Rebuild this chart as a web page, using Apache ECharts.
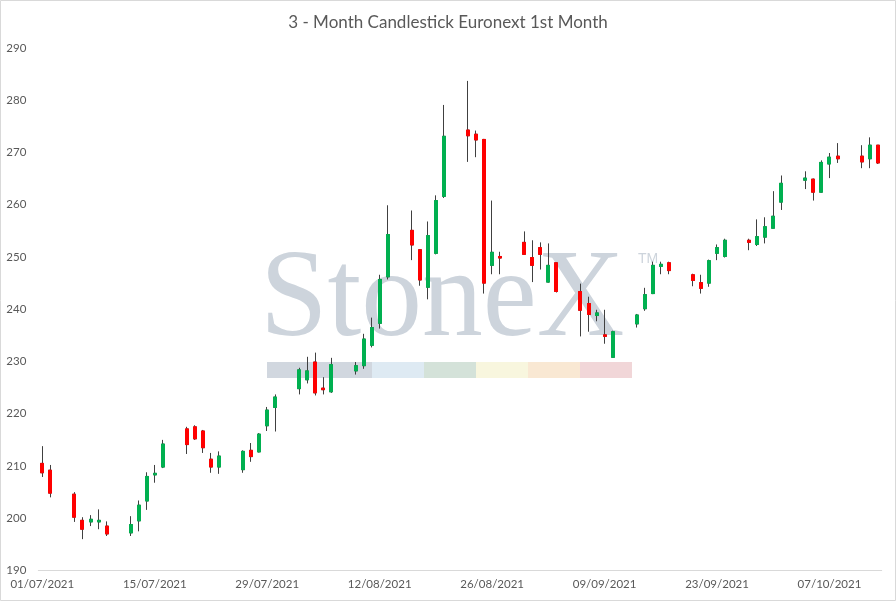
<!DOCTYPE html>
<html>
<head>
<meta charset="utf-8">
<script src="https://cdn.jsdelivr.net/npm/echarts@6/dist/echarts.min.js"></script>
<style>
html,body{margin:0;padding:0;background:#fff;}
#chart{width:896px;height:601px;}
</style>
</head>
<body>
<div id="chart"></div>
<script>
const chartTitle = '3 - Month Candlestick Euronext 1st Month';
const tradingDates = [
 '01/07/2021','02/07/2021',
 '05/07/2021','06/07/2021','07/07/2021','08/07/2021','09/07/2021',
 '12/07/2021','13/07/2021','14/07/2021','15/07/2021','16/07/2021',
 '19/07/2021','20/07/2021','21/07/2021','22/07/2021','23/07/2021',
 '26/07/2021','27/07/2021','28/07/2021','29/07/2021','30/07/2021',
 '02/08/2021','03/08/2021','04/08/2021','05/08/2021','06/08/2021',
 '09/08/2021','10/08/2021','11/08/2021','12/08/2021','13/08/2021',
 '16/08/2021','17/08/2021','18/08/2021','19/08/2021','20/08/2021',
 '23/08/2021','24/08/2021','25/08/2021','26/08/2021','27/08/2021',
 '30/08/2021','31/08/2021','01/09/2021','02/09/2021','03/09/2021',
 '06/09/2021','07/09/2021','08/09/2021','09/09/2021','10/09/2021',
 '13/09/2021','14/09/2021','15/09/2021','16/09/2021','17/09/2021',
 '20/09/2021','21/09/2021','22/09/2021','23/09/2021','24/09/2021',
 '27/09/2021','28/09/2021','29/09/2021','30/09/2021','01/10/2021',
 '04/10/2021','05/10/2021','06/10/2021','07/10/2021','08/10/2021',
 '11/10/2021','12/10/2021','13/10/2021'
];
const openVals = [
 210.5,209.2,
 204.6,199.6,199.3,199.3,198.5,
 197.2,199.5,203.3,208.3,209.8,
 217.1,217.5,216.7,211.3,209.8,
 209.3,213.0,212.7,217.7,221.2,
 224.8,226.5,229.9,224.9,224.2,
 228.2,229.2,233.1,237.3,246.2,
 255.1,251.4,244.2,250.7,261.6,
 274.3,273.5,272.5,248.4,250.1,
 252.8,249.9,251.8,245.2,248.9,
 243.4,241.1,238.8,235.1,230.8,
 237.2,240.1,243.0,248.2,248.9,
 246.6,245.1,245.0,250.7,250.1,
 253.2,252.4,253.8,255.5,260.5,
 264.7,264.9,262.4,267.8,269.3,
 269.3,268.8,271.4
];
const closeVals = [
 208.7,204.8,
 200.2,197.9,199.8,199.6,197.0,
 198.8,202.5,208.0,208.6,214.2,
 214.1,215.2,213.5,209.8,211.9,
 212.8,211.8,216.1,220.7,223.2,
 228.4,228.2,224.0,224.6,229.4,
 229.2,234.3,236.5,245.7,254.3,
 252.3,245.6,254.1,260.8,273.1,
 273.2,272.4,245.0,250.9,249.8,
 250.5,248.4,250.5,248.4,243.4,
 239.8,239.0,239.3,234.8,235.7,
 238.9,242.8,248.4,248.6,247.4,
 245.5,244.0,249.3,251.8,253.2,
 252.8,253.9,255.8,257.8,264.1,
 265.1,262.4,268.1,269.1,268.8,
 268.2,271.4,268.0
];
const lowVals = [
 207.9,204.0,
 199.3,196.0,198.5,197.9,196.6,
 196.6,197.5,201.6,206.8,209.6,
 212.3,215.0,212.5,208.7,208.5,
 208.7,210.8,212.6,216.7,216.6,
 223.7,225.8,223.5,223.7,224.0,
 227.5,228.6,232.7,236.3,245.7,
 249.4,244.5,241.9,250.5,261.3,
 268.2,269.1,243.0,246.7,246.7,
 250.4,245.2,247.6,245.1,243.2,
 234.8,235.7,237.7,233.4,230.7,
 236.5,239.7,242.9,246.7,246.7,
 244.4,243.0,244.3,249.4,249.9,
 251.3,252.1,252.6,255.5,259.0,
 263.0,260.8,262.3,265.1,268.0,
 267.0,267.0,267.8
];
const highVals = [
 213.8,210.2,
 205.0,200.2,200.6,201.7,199.4,
 200.4,203.4,208.8,210.2,215.0,
 217.5,217.8,216.9,212.5,212.8,
 213.0,214.4,216.3,221.3,223.7,
 228.8,230.9,231.7,227.0,230.7,
 229.9,235.3,238.4,246.6,259.9,
 258.9,251.5,256.8,261.8,279.1,
 283.7,274.2,272.6,260.8,251.0,
 254.9,253.2,252.8,252.6,249.0,
 244.9,242.4,239.9,239.9,235.9,
 239.1,244.1,249.1,249.1,249.1,
 246.8,246.6,249.5,252.4,253.5,
 253.5,257.2,257.6,262.6,265.6,
 266.4,265.0,268.5,269.9,271.8,
 271.4,272.9,271.4
];
const xTickLabels = ['01/07/2021','15/07/2021','29/07/2021','12/08/2021','26/08/2021','09/09/2021','23/09/2021','07/10/2021'];
const yMin = 190, yMax = 290, yStep = 10;

// calendar-day categories (Excel date axis keeps weekend gaps)
function parseD(s){const p=s.split('/');return Date.UTC(+p[2],+p[1]-1,+p[0]);}
function fmtD(t){const d=new Date(t);const z=n=>(n<10?'0':'')+n;return z(d.getUTCDate())+'/'+z(d.getUTCMonth()+1)+'/'+d.getUTCFullYear();}
const calendarDays = [];
for(let t=parseD(tradingDates[0]); t<=parseD(tradingDates[tradingDates.length-1]); t+=86400000){calendarDays.push(fmtD(t));}

const wickData = tradingDates.map((d,i)=>[d, openVals[i], closeVals[i], lowVals[i], highVals[i]]);
const bodyData = tradingDates.map((d,i)=>[d, openVals[i], closeVals[i], Math.min(openVals[i],closeVals[i]), Math.max(openVals[i],closeVals[i])]);

const FONT = 'Lato';
const chart = echarts.init(document.getElementById('chart'), null, {renderer:'canvas'});
chart.setOption({
  animation:false,
  backgroundColor:'#ffffff',
  title:{text:chartTitle,left:'center',top:9,textStyle:{fontFamily:FONT,fontSize:17,fontWeight:'normal',color:'#595959'}},
  graphic:[
    {type:'rect',z:-10,silent:true,shape:{x:0.5,y:0.5,width:895,height:600},style:{fill:'none',stroke:'#d9d9d9',lineWidth:1}},
    {type:'text',z:-5,silent:true,x:260,y:302,scaleX:0.98,style:{text:'StoneX',font:'124px "Liberation Serif"',fill:'#cdd4dc',verticalAlign:'middle',align:'left'}},
    {type:'text',z:-5,silent:true,x:638,y:252,style:{text:'TM',font:'14px "Liberation Sans"',fill:'#cdd4dc',verticalAlign:'top',align:'left'}},
    {type:'rect',z:-5,silent:true,shape:{x:267,y:362,width:105,height:16},style:{fill:'#d1d7df'}},
    {type:'rect',z:-5,silent:true,shape:{x:372,y:362,width:52,height:16},style:{fill:'#deeaf3'}},
    {type:'rect',z:-5,silent:true,shape:{x:424,y:362,width:52,height:16},style:{fill:'#d4e2d9'}},
    {type:'rect',z:-5,silent:true,shape:{x:476,y:362,width:52,height:16},style:{fill:'#f8f6de'}},
    {type:'rect',z:-5,silent:true,shape:{x:528,y:362,width:52,height:16},style:{fill:'#f9e8d3'}},
    {type:'rect',z:-5,silent:true,shape:{x:580,y:362,width:52,height:16},style:{fill:'#f1d6d8'}}
  ],
  grid:{left:38.3,right:14.3,top:48,bottom:30.5,containLabel:false},
  xAxis:{
    type:'category',data:calendarDays,boundaryGap:true,
    axisLine:{show:true,lineStyle:{color:'#d9d9d9',width:1}},
    axisTick:{show:false},
    splitLine:{show:false},
    axisLabel:{interval:13,margin:8,color:'#595959',fontFamily:FONT,fontSize:11.5,
      formatter:v=>xTickLabels.indexOf(v)>=0?v:''}
  },
  yAxis:{
    type:'value',min:yMin,max:yMax,interval:yStep,
    axisLine:{show:false},axisTick:{show:false},splitLine:{show:false},
    axisLabel:{margin:12,color:'#595959',fontFamily:FONT,fontSize:11.5}
  },
  series:[
    {type:'candlestick',name:'wick',data:wickData,encode:{x:0,y:[1,2,3,4]},barWidth:3.5,z:2,
     itemStyle:{color:'transparent',color0:'transparent',borderColor:'#404040',borderColor0:'#404040',borderWidth:1}},
    {type:'candlestick',name:'body',data:bodyData,encode:{x:0,y:[1,2,3,4]},barWidth:3.5,z:3,
     itemStyle:{color:'#00b050',color0:'#ff0000',borderColor:'#00b050',borderColor0:'#ff0000',borderWidth:1}}
  ]
});
</script>
</body>
</html>
